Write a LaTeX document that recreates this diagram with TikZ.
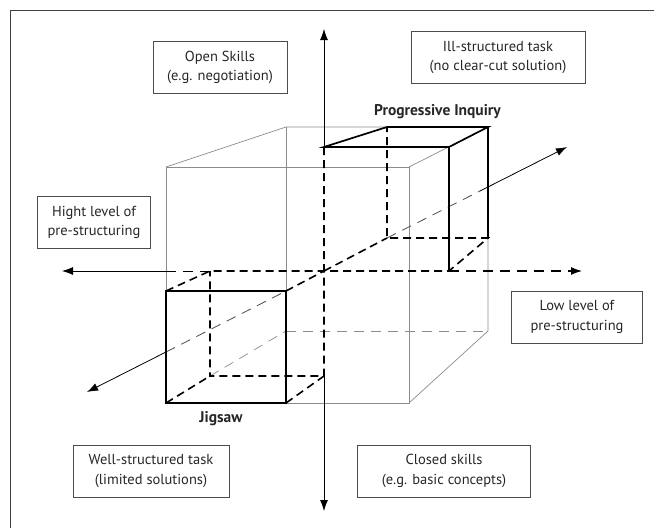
\documentclass[tikz,border=0pt]{standalone}
\usepackage{fontspec}
\setmainfont{PT Sans}
\usetikzlibrary{arrows.meta,positioning,calc}

\tikzset{
  txtbox/.style={draw=black!70, line width=0.8pt, align=center, inner xsep=4pt,
    minimum height=52pt, font=\fontsize{14.5}{19.5}\selectfont, text=black!85},
  boxlabel/.style={font=\bfseries\fontsize{15.5}{18}\selectfont, text=black!85},
  cubeline/.style={draw=black!45, line width=0.7pt},
  cubehidden/.style={cubeline, dash pattern=on 10pt off 7pt},
  solidedge/.style={line width=1.7pt, line cap=rect},
  hiddenedge/.style={line width=1.6pt, dash pattern=on 8pt off 5pt},
  axis/.style={line width=0.8pt},
  axisdash/.style={line width=0.8pt, dash pattern=on 10pt off 7pt},
  tip/.style={-{Latex[length=11pt,width=8pt]}},
}

\begin{document}
\begin{tikzpicture}[x=1pt, y=-1pt]
  \useasboundingbox (0,0) rectangle (654,528);

  % frame
  \draw[black!75, line width=1pt] (10.5,528) -- (10.5,10.5) -- (654,10.5);

  % corners of the large cube
  \coordinate (f1) at (166,167);
  \coordinate (f2) at (409,167);
  \coordinate (f3) at (409,403);
  \coordinate (f4) at (166,403);
  \coordinate (b1) at (286,127);
  \coordinate (b2) at (488,127);
  \coordinate (b3) at (488,331);
  \coordinate (b4) at (286,331);

  % origin of the axes
  \coordinate (O) at (324,271);

  % corners of the jigsaw box
  \coordinate (jf1) at (166,291);
  \coordinate (jf2) at (286,291);
  \coordinate (jf3) at (286,403);
  \coordinate (jf4) at (166,403);
  \coordinate (jb1) at (210,271);
  \coordinate (jb3) at (324,376);
  \coordinate (jb4) at (210,376);

  % corners of the progressive inquiry box
  \coordinate (pf1) at (324,147);
  \coordinate (pf2) at (449,147);
  \coordinate (pf3) at (449,271);
  \coordinate (pb1) at (387,127);
  \coordinate (pb3) at (488,238);
  \coordinate (pb4) at (387,238);

  % axis ends
  \coordinate (vtop) at (324,29);
  \coordinate (vbot) at (324,511);
  \coordinate (hleft) at (62,271);
  \coordinate (hcut) at (166,271);
  \coordinate (hright) at (582,271);
  \coordinate (dleft) at (87,392);
  \coordinate (dcut1) at (166,352);
  \coordinate (dcut2) at (480,191);
  \coordinate (dright) at (567,147);

  % large cube
  \draw[cubeline] (f1) -- (f2) -- (f3) -- (f4) -- cycle;
  \draw[cubeline] (f1) -- (b1) -- (b2) -- (f2);
  \draw[cubeline] (b2) -- (b3) -- (f3);
  \draw[cubeline] (b1) -- (b4);
  \draw[cubehidden] (b4) -- (b3);
  \draw[cubehidden] (jb4) -- (b4);

  % axes
  \draw[axis, tip] (pf1) -- (vtop);
  \draw[axis, tip] (jb3) -- (vbot);
  \draw[axis, tip] (hcut) -- (hleft);
  \draw[axisdash] (hcut) -- (jb1);
  \draw[axisdash, line width=1.1pt, tip] (pf3) -- (hright);
  \draw[axis, tip] (dcut1) -- (dleft);
  \draw[axisdash, draw=black!70] (dcut1) -- (jf2);
  \draw[axisdash, draw=black!70] (pb4) -- (dcut2);
  \draw[axis, tip] (dcut2) -- (dright);

  % jigsaw box
  \draw[hiddenedge] (jf1) -- (jb1) -- (O) -- (jb3) -- (jb4) -- (jb1);
  \draw[hiddenedge] (jf2) -- (O);
  \draw[hiddenedge] (jf3) -- (jb3);
  \draw[hiddenedge] (jf4) -- (jb4);
  \draw[solidedge] (jf1) -- (jf2) -- (jf3) -- (jf4) -- cycle;

  % progressive inquiry box
  \draw[hiddenedge] (pf1) -- (O) -- (pf3) -- (pb3) -- (pb4) -- (pb1);
  \draw[hiddenedge] (O) -- (pb4);
  \draw[solidedge] (pf3) -- (pf2) -- (pf1) -- (pb1) -- (b2) -- (pf2);
  \draw[solidedge] (b2) -- (pb3);

  % labels
  \node[boxlabel] (pilabel) at (437.5,112) {Progressive Inquiry};
  \node[boxlabel] (jiglabel) at (221,419) {Jigsaw};

  \node[txtbox, minimum width=134pt] (open) at (220,67.5) {Open Skills\\(e.g. negotiation)};
  \node[txtbox, minimum width=174pt] (ill) at (498,57.5) {Ill-structured task\\(no clear-cut solution)};
  \node[txtbox, minimum width=113pt] (high) at (94,222.5) {Hight level of\\pre-structuring};
  \node[txtbox, minimum width=131pt] (low) at (577,317) {Low level of\\pre-structuring};
  \node[txtbox, minimum width=156pt] (well) at (151,471) {Well-structured task\\(limited solutions)};
  \node[txtbox, minimum width=173pt] (closed) at (444,471) {Closed skills\\(e.g. basic concepts)};
\end{tikzpicture}
\end{document}
